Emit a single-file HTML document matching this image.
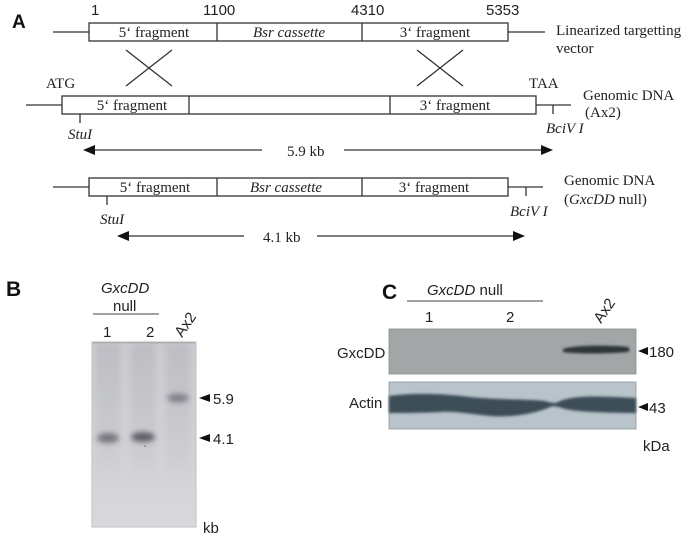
<!DOCTYPE html>
<html><head><meta charset="utf-8"><style>
html,body{margin:0;padding:0;background:#fff;}
svg{display:block;}
.s{font-family:"Liberation Serif",serif;font-size:15px;fill:#222;}
.a{font-family:"Liberation Sans",sans-serif;font-size:15px;fill:#222;}
.b{font-family:"Liberation Sans",sans-serif;font-weight:bold;fill:#111;}
.ln{stroke:#333;stroke-width:1.3;fill:none;}
.bx{stroke:#333;stroke-width:1.3;fill:#fff;}
</style></head><body>
<svg width="685" height="538" viewBox="0 0 685 538" xmlns="http://www.w3.org/2000/svg">
<defs>
<filter id="blr" x="-40%" y="-150%" width="180%" height="400%"><feGaussianBlur stdDeviation="2.6"/></filter>
<filter id="blr2" x="-20%" y="-100%" width="140%" height="300%"><feGaussianBlur stdDeviation="1.2"/></filter>
<filter id="blr3" x="-20%" y="-10%" width="140%" height="120%"><feGaussianBlur stdDeviation="3"/></filter>
<linearGradient id="gel" x1="0" y1="0" x2="0" y2="1">
<stop offset="0" stop-color="#cacbd0"/>
<stop offset="0.6" stop-color="#d1d2d6"/>
<stop offset="1" stop-color="#d9d9dc"/>
</linearGradient>
<linearGradient id="lane" x1="0" y1="0" x2="0" y2="1">
<stop offset="0" stop-color="#b9bac0" stop-opacity="0.8"/>
<stop offset="0.6" stop-color="#c2c3c8" stop-opacity="0.5"/>
<stop offset="1" stop-color="#c8c9cd" stop-opacity="0"/>
</linearGradient>
</defs>

<!-- Panel A -->
<text class="b" x="12" y="28" font-size="19">A</text>
<text class="a" x="91" y="15" font-size="14">1</text>
<text class="a" x="203" y="15" font-size="14">1100</text>
<text class="a" x="351" y="15" font-size="14">4310</text>
<text class="a" x="486" y="15" font-size="14">5353</text>

<!-- row 1 -->
<line class="ln" x1="53" y1="32" x2="89" y2="32"/>
<line class="ln" x1="508" y1="32" x2="545" y2="32"/>
<rect class="bx" x="89" y="23" width="419" height="18"/>
<line class="ln" x1="217" y1="23" x2="217" y2="41"/>
<line class="ln" x1="362" y1="23" x2="362" y2="41"/>
<text class="s" x="154" y="37" text-anchor="middle">5‘ fragment</text>
<text class="s" x="289" y="37" text-anchor="middle" font-style="italic">Bsr cassette</text>
<text class="s" x="435" y="37" text-anchor="middle">3‘ fragment</text>
<text class="s" x="556" y="35">Linearized targetting</text>
<text class="s" x="556" y="53">vector</text>

<!-- crosses -->
<line class="ln" x1="126" y1="50" x2="172" y2="86"/>
<line class="ln" x1="172" y1="50" x2="126" y2="86"/>
<line class="ln" x1="417" y1="50" x2="463" y2="86"/>
<line class="ln" x1="463" y1="50" x2="417" y2="86"/>

<!-- row 2 -->
<text class="s" x="46" y="88">ATG</text>
<text class="s" x="529" y="88">TAA</text>
<line class="ln" x1="26" y1="105" x2="62" y2="105"/>
<line class="ln" x1="536" y1="105" x2="571" y2="105"/>
<rect class="bx" x="62" y="96" width="474" height="18"/>
<line class="ln" x1="189" y1="96" x2="189" y2="114"/>
<line class="ln" x1="390" y1="96" x2="390" y2="114"/>
<text class="s" x="132" y="110" text-anchor="middle">5‘ fragment</text>
<text class="s" x="455" y="110" text-anchor="middle">3‘ fragment</text>
<line class="ln" x1="80" y1="114" x2="80" y2="123"/>
<line class="ln" x1="553" y1="105" x2="553" y2="114"/>
<text class="s" x="583" y="100">Genomic DNA</text>
<text class="s" x="585" y="117">(Ax2)</text>
<text class="s" x="68" y="139" font-style="italic">StuI</text>
<text class="s" x="546" y="133" font-style="italic">BciV I</text>

<!-- 5.9 arrow -->
<line class="ln" x1="92" y1="150" x2="262" y2="150"/>
<polygon points="83,150 95,145 95,155" fill="#111"/>
<text class="s" x="287" y="156">5.9 kb</text>
<line class="ln" x1="344" y1="150" x2="544" y2="150"/>
<polygon points="553,150 541,145 541,155" fill="#111"/>

<!-- row 3 -->
<line class="ln" x1="53" y1="187" x2="89" y2="187"/>
<line class="ln" x1="508" y1="187" x2="543" y2="187"/>
<rect class="bx" x="89" y="178" width="419" height="18"/>
<line class="ln" x1="217" y1="178" x2="217" y2="196"/>
<line class="ln" x1="362" y1="178" x2="362" y2="196"/>
<text class="s" x="155" y="192" text-anchor="middle">5‘ fragment</text>
<text class="s" x="286" y="192" text-anchor="middle" font-style="italic">Bsr cassette</text>
<text class="s" x="434" y="192" text-anchor="middle">3‘ fragment</text>
<line class="ln" x1="107" y1="196" x2="107" y2="205"/>
<line class="ln" x1="526" y1="187" x2="526" y2="196"/>
<text class="s" x="564" y="185">Genomic DNA</text>
<text class="s" x="564" y="204">(<tspan font-style="italic">GxcDD</tspan> null)</text>
<text class="s" x="100" y="224" font-style="italic">StuI</text>
<text class="s" x="510" y="216" font-style="italic">BciV I</text>

<!-- 4.1 arrow -->
<line class="ln" x1="126" y1="236" x2="244" y2="236"/>
<polygon points="117,236 129,231 129,241" fill="#111"/>
<text class="s" x="263" y="242">4.1 kb</text>
<line class="ln" x1="317" y1="236" x2="516" y2="236"/>
<polygon points="525,236 513,231 513,241" fill="#111"/>

<!-- Panel B -->
<text class="b" x="6" y="296" font-size="21">B</text>
<text class="a" x="101" y="293" font-size="16" font-style="italic">GxcDD</text>
<text class="a" x="113" y="311" font-size="16">null</text>
<line x1="93" y1="314" x2="159" y2="314" stroke="#444" stroke-width="1"/>
<text class="a" x="103" y="337" font-size="16">1</text>
<text class="a" x="146" y="337" font-size="16">2</text>
<text class="a" x="0" y="0" font-size="16" transform="translate(182,338) rotate(-55)">Ax2</text>

<rect x="92" y="342" width="104" height="185" fill="url(#gel)"/>
<g filter="url(#blr3)">
<rect x="96" y="344" width="24" height="150" fill="url(#lane)"/>
<rect x="131" y="344" width="24" height="150" fill="url(#lane)"/>
<rect x="166" y="344" width="24" height="150" fill="url(#lane)"/>
</g>
<line x1="92" y1="342.5" x2="196" y2="342.5" stroke="#9a9a9e" stroke-width="1.5"/>
<rect x="92" y="342" width="104" height="185" fill="none" stroke="#c0c0c4" stroke-width="1"/>
<ellipse cx="108" cy="438" rx="11" ry="5" fill="#74747e" filter="url(#blr)"/>
<ellipse cx="143" cy="437" rx="12" ry="5" fill="#5e5e68" filter="url(#blr)"/>
<ellipse cx="178" cy="398" rx="11" ry="4.5" fill="#80808a" filter="url(#blr)"/>
<circle cx="145" cy="446" r="0.8" fill="#666"/>
<polygon points="199,398 210,394 210,402" fill="#111"/>
<text class="a" x="213" y="404">5.9</text>
<polygon points="199,438 210,434 210,442" fill="#111"/>
<text class="a" x="213" y="444">4.1</text>
<text class="a" x="203" y="533">kb</text>

<!-- Panel C -->
<text class="b" x="382" y="299" font-size="21">C</text>
<text class="a" x="427" y="295" font-size="16"><tspan font-style="italic">GxcDD</tspan> null</text>
<line x1="407" y1="301" x2="543" y2="301" stroke="#444" stroke-width="1"/>
<text class="a" x="425" y="322" font-size="16">1</text>
<text class="a" x="506" y="322" font-size="16">2</text>
<text class="a" x="0" y="0" font-size="16" transform="translate(601,324) rotate(-55)">Ax2</text>

<rect x="389" y="329" width="247" height="45" fill="#a2a6a6" stroke="#8a8e8e" stroke-width="0.8"/>
<path d="M563,349 C575,345 610,345 628,347 C630,349 630,351 628,352 C605,354 575,354 563,352 Z" fill="#2e3438" filter="url(#blr2)"/>
<text class="a" x="337" y="358">GxcDD</text>
<polygon points="638,351 648,347 648,355" fill="#111"/>
<text class="a" x="649" y="357" font-size="16">180</text>

<rect x="389" y="382" width="247" height="47" fill="#b8c3ca" stroke="#8e989e" stroke-width="0.8"/>
<path d="M389,396 C410,393 440,393 470,397 C500,400 530,399 545,401 C552,403 555,404 560,401 C575,395 600,396 636,398 L636,413 C610,413 585,412 570,410 C560,408 556,405 550,407 C540,412 515,418 490,416 C470,414 455,411 440,412 C420,413 405,413 389,413 Z" fill="#3c4d58" filter="url(#blr2)"/>
<text class="a" x="349" y="408">Actin</text>
<polygon points="638,407 648,403 648,411" fill="#111"/>
<text class="a" x="649" y="413" font-size="16">43</text>
<text class="a" x="643" y="451">kDa</text>
</svg>
</body></html>
